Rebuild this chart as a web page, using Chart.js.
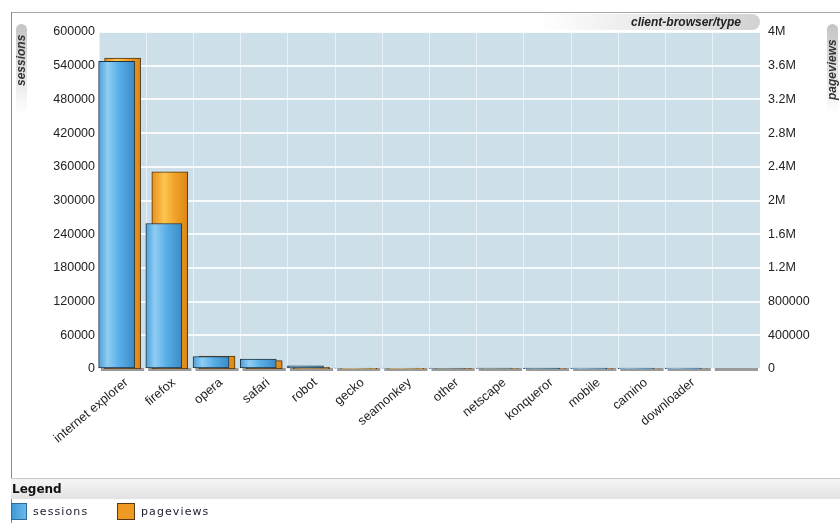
<!DOCTYPE html>
<html>
<head>
<meta charset="utf-8">
<script src="https://cdn.jsdelivr.net/npm/chart.js@4/dist/chart.umd.min.js"></script>
<style>
  body { margin: 0; background: #fff; font-family: "Liberation Sans", Arial, sans-serif; }
  #wrap { position: relative; width: 840px; height: 523px; overflow: hidden; }
  #chart { position: absolute; left: 0; top: 0; }
  .frameTop { position: absolute; left: 11px; top: 12px; right: 0; height: 1px; background: #a8a8a8; }
  .frameLeft { position: absolute; left: 11px; top: 12px; width: 1px; bottom: 0; background: #8a8a8a; }
  .pill { position: absolute; border-radius: 6px; }
  .vtitle { position: absolute; font: italic bold 12px "Liberation Sans", Arial, sans-serif; color: #333;
            transform-origin: left top; transform: rotate(-90deg); white-space: nowrap; }
  .ctitle { position: absolute; font: italic bold 12px "Liberation Sans", Arial, sans-serif; color: #222; white-space: nowrap; }
  #legendHead { position: absolute; left: 11px; right: 0; top: 478px; height: 20px;
                border-top: 1px solid #c8c8c8;
                background: linear-gradient(#f6f6f6, #e2e2e2); }
  #legendHead span { position: absolute; left: 1px; top: 3px; font: bold 12px "DejaVu Sans", Verdana, sans-serif; color: #111; }
  .lgBox { position: absolute; top: 503px; width: 16px; height: 17px; box-sizing: border-box; }
  .lgText { position: absolute; top: 505px; font: 11px "DejaVu Sans", Verdana, sans-serif; letter-spacing: 1.1px; color: #223; }
</style>
</head>
<body>
<div id="wrap">
  <canvas id="chart" width="840" height="470"></canvas>
  <div class="frameTop"></div>
  <div class="frameLeft"></div>

  <div class="pill" style="left:16px; top:24px; width:11px; height:90px; background:linear-gradient(#c4c4c4, rgba(255,255,255,0));"></div>
  <div class="vtitle" style="left:14px; top:86px;">sessions</div>

  <div class="pill" style="left:827px; top:24px; width:11px; height:90px; background:linear-gradient(#c4c4c4, rgba(255,255,255,0));"></div>
  <div class="vtitle" style="left:825px; top:100px;">pageviews</div>

  <div class="pill" style="left:540px; top:14px; width:220px; height:16px; border-radius:0 8px 8px 0; background:linear-gradient(90deg, rgba(255,255,255,0), #d2d2d2);"></div>
  <div class="ctitle" style="left:631px; top:15px;">client-browser/type</div>

  <div id="legendHead"><span>Legend</span></div>
  <div class="lgBox" style="left:11px; background:linear-gradient(90deg,#3f9ad8,#6ab8ea); border:1px solid #2c6d9c;"></div>
  <div class="lgText" style="left:33px;">sessions</div>
  <div class="lgBox" style="left:117px; width:18px; background:#ee9a22; border:1px solid #5a3a10;"></div>
  <div class="lgText" style="left:141px;">pageviews</div>
</div>

<script>
// categories and values
const browsers = ["internet explorer", "firefox", "opera", "safari", "robot", "gecko", "seamonkey",
                  "other", "netscape", "konqueror", "mobile", "camino", "downloader", ""];
const sessions = [548000, 259000, 22000, 17500, 5500, 1500, 1300, 1100, 900, 800, 700, 600, 500, 0];
const pageviews = [3690000, 2340000, 152000, 100000, 20000, 9000, 8000, 7000, 5000, 4500, 4000, 3500, 3000, 0];

const leftTicks = ["0", "60000", "120000", "180000", "240000", "300000", "360000", "420000", "480000", "540000", "600000"];
const rightTicks = ["0", "400000", "800000", "1.2M", "1.6M", "2M", "2.4M", "2.8M", "3.2M", "3.6M", "4M"];

const BAR_W = 36;
const SHIFT = -6; // sessions bar sits a bit left, in front of pageviews

function barGradient(c, stops, flat) {
    const chart = c.chart;
    if (!chart.chartArea || !chart.scales.x) return flat;
    const cx = chart.scales.x.getPixelForValue(c.dataIndex);
    const g = chart.ctx.createLinearGradient(cx - BAR_W / 2, 0, cx + BAR_W / 2, 0);
    stops.forEach((s) => g.addColorStop(s[0], s[1]));
    return g;
}

const blueStops = [[0, "#4c9fd8"], [0.25, "#8fcdf3"], [0.55, "#5bb0e8"], [1, "#3b8bc6"]];
const orangeStops = [[0, "#e9901a"], [0.35, "#fcc552"], [0.6, "#f3a62c"], [1, "#dc8612"]];

const plotBg = {
    id: "plotBg",
    beforeDraw(chart) {
        const a = chart.chartArea;
        const ctx = chart.ctx;
        ctx.save();
        ctx.fillStyle = "#cde0ea";
        ctx.fillRect(a.left, a.top, a.right - a.left, a.bottom - a.top);
        ctx.restore();
    },
    beforeDatasetsDraw(chart) {
        // grey floor under every slot
        const a = chart.chartArea;
        const x = chart.scales.x;
        const ctx = chart.ctx;
        const step = (a.right - a.left) / browsers.length;
        ctx.save();
        ctx.fillStyle = "#9a9a9a";
        browsers.forEach((b, i) => {
            const cx = x.getPixelForValue(i);
            ctx.fillRect(cx - step / 2 + 2, a.bottom - 1, step - 4, 3);
        });
        ctx.restore();
    },
    beforeDatasetDraw(chart, args) {
        chart.ctx.save();
        if (args.index === 0) chart.ctx.translate(SHIFT, 0);
    },
    afterDatasetDraw(chart) {
        chart.ctx.restore();
    }
};

new Chart(document.getElementById("chart"), {
    type: "bar",
    data: {
        labels: browsers,
        datasets: [
            {
                label: "sessions",
                data: sessions,
                yAxisID: "y",
                backgroundColor: (c) => barGradient(c, blueStops, "#5aaee6"),
                borderColor: "#1e3346",
                borderWidth: 1,
                borderSkipped: false,
                barThickness: BAR_W,
                order: 0
            },
            {
                label: "pageviews",
                data: pageviews,
                yAxisID: "y2",
                backgroundColor: (c) => barGradient(c, orangeStops, "#f3a62c"),
                borderColor: "#4a3010",
                borderWidth: 1,
                borderSkipped: false,
                barThickness: BAR_W,
                order: 1
            }
        ]
    },
    options: {
        responsive: false,
        animation: false,
        devicePixelRatio: 1,
        layout: { padding: { top: 32, left: 0, right: 0, bottom: 0 } },
        plugins: { legend: { display: false }, tooltip: { enabled: false } },
        datasets: { bar: { grouped: false } },
        scales: {
            x: {
                offset: true,
                grid: { offset: true, color: "rgba(255,255,255,0.55)", lineWidth: 1, drawTicks: false },
                border: { display: false },
                ticks: {
                    autoSkip: false, minRotation: 40, maxRotation: 40, padding: 6, labelOffset: 4,
                    color: "#222", font: { family: "Liberation Sans", size: 12.8 }
                },
                afterFit(s) { s.height = 101; }
            },
            y: {
                position: "left",
                min: 0, max: 600000,
                ticks: {
                    stepSize: 60000, padding: 4, color: "#222",
                    font: { family: "Liberation Sans", size: 12.5 },
                    callback: (v, i) => leftTicks[i]
                },
                grid: { color: "rgba(255,255,255,0.85)", lineWidth: 2, drawTicks: false },
                border: { display: false },
                afterFit(s) { s.width = 99; }
            },
            y2: {
                position: "right",
                min: 0, max: 4000000,
                ticks: {
                    stepSize: 400000, padding: 8, color: "#222",
                    font: { family: "Liberation Sans", size: 12.5 },
                    callback: (v, i) => rightTicks[i]
                },
                grid: { display: false, drawTicks: false },
                border: { display: false },
                afterFit(s) { s.width = 80; }
            }
        }
    },
    plugins: [plotBg]
});
</script>
</body>
</html>
